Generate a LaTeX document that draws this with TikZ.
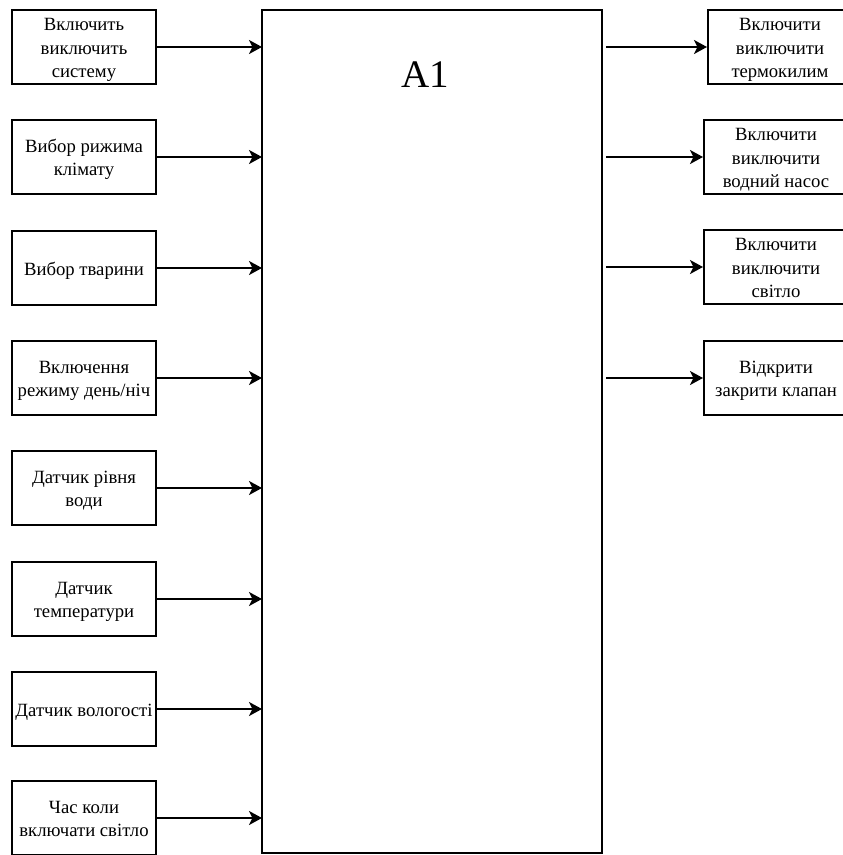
\documentclass[tikz,border=0pt]{standalone}
\usepackage{fontspec}
\setmainfont{Liberation Serif}
\usetikzlibrary{arrows.meta}
% centred stack of lines, set a little low in its box
\newcommand{\boxtext}[1]{\raisebox{-2.5pt}[\height][\depth]{\begin{tabular}{@{}c@{}}#1\end{tabular}}}
\begin{document}
\begin{tikzpicture}[x=1pt,y=-1pt,
  block/.style={draw, line width=2pt, minimum width=144pt, minimum height=74pt,
    inner sep=0pt, font=\fontsize{18.7}{23.5}\selectfont},
  link/.style={line width=2pt, -{Stealth[length=13pt,width=14pt,inset=3.5pt]}}]
\useasboundingbox (0,0) rectangle (843,855);

% central process block
\draw[line width=2pt] (262,10) rectangle (602,853);
\coordinate (mainL) at (262,0);
\coordinate (mainR) at (603,0);
\node (a1) at (425,75) {\fontsize{39}{44}\selectfont A1};

% inputs
\node[block] (in1) at (84,47)  {\boxtext{Включить\\виключить\\систему}};
\node[block] (in2) at (84,157) {\boxtext{Вибор рижима\\клімату}};
\node[block] (in3) at (84,268) {\boxtext{Вибор тварини}};
\node[block] (in4) at (84,378) {\boxtext{Включення\\режиму день/ніч}};
\node[block] (in5) at (84,488) {\boxtext{Датчик рівня\\води}};
\node[block] (in6) at (84,599) {\boxtext{Датчик\\температури}};
\node[block] (in7) at (84,709) {\boxtext{Датчик вологості}};
\node[block] (in8) at (84,818) {\boxtext{Час коли\\включати світло}};

% outputs
\node[block] (out1) at (780,47)  {\boxtext{Включити\\виключити\\термокилим}};
\node[block] (out2) at (776,157) {\boxtext{Включити\\виключити\\водний насос}};
\node[block] (out3) at (776,267) {\boxtext{Включити\\виключити\\світло}};
\node[block] (out4) at (776,378) {\boxtext{Відкрити\\закрити клапан}};

% connectors into the block
\foreach \i in {1,...,8}
  \draw[link] (in\i.east) -- (in\i.east -| mainL);

% connectors out of the block
\foreach \i in {1,...,4}
  \draw[link] (out\i.west -| mainR) ++(3,0) -- (out\i.west);
\end{tikzpicture}
\end{document}
